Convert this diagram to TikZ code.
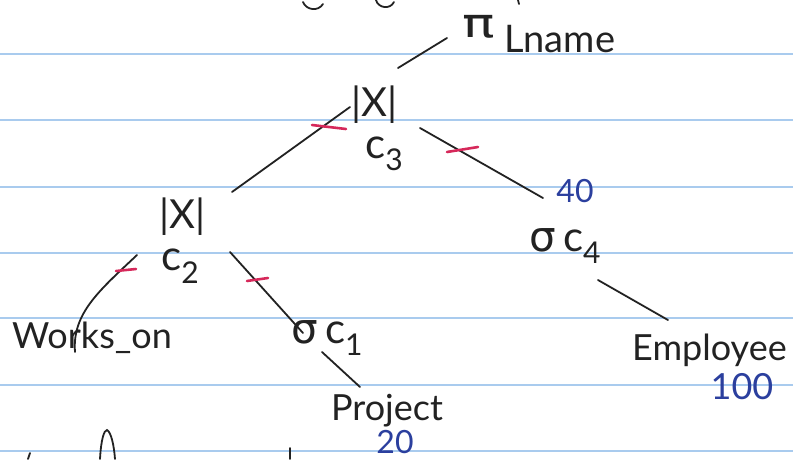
\documentclass[tikz,border=0pt]{standalone}
\usepackage{fontspec}
\usepackage{graphicx}
\setmainfont{Lato}
\newfontfamily\greekfont{DejaVu Sans}
\definecolor{ink}{HTML}{222222}
\definecolor{blueink}{HTML}{2B3F9E}
\definecolor{redink}{HTML}{D6285A}
\definecolor{rulecol}{HTML}{A9CBEE}
\newcommand\lowsub[1]{\raisebox{-0.3em}{\fontsize{30}{30}\selectfont #1}}
\begin{document}
\begin{tikzpicture}[x=1pt,y=-1pt,
  pen/.style={draw=ink,line width=1.8pt,line cap=round},
  redtick/.style={draw=redink,line width=2.6pt,line cap=round},
  paperline/.style={draw=rulecol,line width=1.6pt},
  lbl/.style={inner sep=0pt,text=ink,font=\fontsize{36}{36}\selectfont},
  num/.style={inner sep=0pt,text=blueink,font=\fontsize{32}{32}\selectfont},
  joinop/.style={inner sep=0pt,text=ink,font=\fontsize{40}{40}\selectfont},
  cond/.style={inner sep=0pt,text=ink,font=\fontsize{42}{42}\selectfont}]
\useasboundingbox[fill=white] (0,0) rectangle (793,459);
% ruled paper
\foreach \yy in {54,120,187,253,318,385,451}
  \draw[paperline] (0,\yy) -- (793,\yy);
% nodes
\node[joinop,anchor=base,text height=22pt,text depth=0pt,font=\fontsize{30}{30}\selectfont] (pi) at (479,37) {\scalebox{1.8}[1.35]{\greekfont π}};
\node[lbl,anchor=base west,font=\fontsize{38}{38}\selectfont] (lname) at (504,52) {Lname};
\node[joinop] (j1) at (374,105) {|X|};
\node[cond] (c3) at (384,154) {c\lowsub{3}};
\node[joinop] (j2) at (182,217) {|X|};
\node[cond] (c2) at (180,266) {c\lowsub{2}};
\node[cond] (s4) at (565,246) {{\greekfont σ}\,c\lowsub{4}};
\node[num] (n40) at (575,191) {40};
\node[lbl] (w) at (92,338) {Works\_on};
\node[cond] (s1) at (327,338) {{\greekfont σ}\,c\lowsub{1}};
\node[lbl,anchor=base] (p) at (387,420) {Project};
\node[num] (n20) at (395,442) {20};
\node[lbl,anchor=base west] (e) at (632,360) {Employee};
\node[num,font=\fontsize{36}{36}\selectfont] (n100) at (742,387) {100};
% connectors
\draw[pen] ([shift={(-32,1)}]pi.base) -- ([shift={(24,-37)}]j1.center);
\draw[pen] ([shift={(-24,2)}]j1.center) -- ([shift={(50,-25)}]j2.center);
\draw[pen] ([shift={(46,23)}]j1.center) -- ([shift={(-22,-48)}]s4.center);
\draw[pen] ([shift={(-45,38)}]j2.center) .. controls ([shift={(-82,73)}]j2.center) and ([shift={(-20,-25)}]w.center) .. ([shift={(-17,14)}]w.center);
\draw[pen] ([shift={(48,35)}]j2.center) -- ([shift={(-24,-5)}]s1.center);
\draw[pen] ([shift={(-5,14)}]s1.center) -- ([shift={(-27,-33)}]p.base);
\draw[pen] ([shift={(33,34)}]s4.center) -- ([shift={(36,-40)}]e.base west);
% red marks
\draw[redtick] ([shift={(-62,20)}]j1.center) -- ([shift={(-28,24)}]j1.center);
\draw[redtick] ([shift={(73,47)}]j1.center) -- ([shift={(104,42)}]j1.center);
\draw[redtick] ([shift={(-66,54)}]j2.center) -- ([shift={(-46,52)}]j2.center);
\draw[redtick] ([shift={(65,64)}]j2.center) -- ([shift={(86,61)}]j2.center);
% cut-off writing at the edges
\draw[pen] (303,2) .. controls (306,10) and (318,12) .. (323,4);
\draw[pen] (376,0) .. controls (378,8) and (390,10) .. (394,2);
\draw[pen] (518,0) -- (519,4);
\draw[pen] (100,459) .. controls (101,440) and (104,430) .. (107,430) .. controls (111,432) and (114,445) .. (115,459);
\draw[pen] (28,459) -- (30,453);
\draw[pen] (290,459) -- (290,448);
\end{tikzpicture}
\end{document}
